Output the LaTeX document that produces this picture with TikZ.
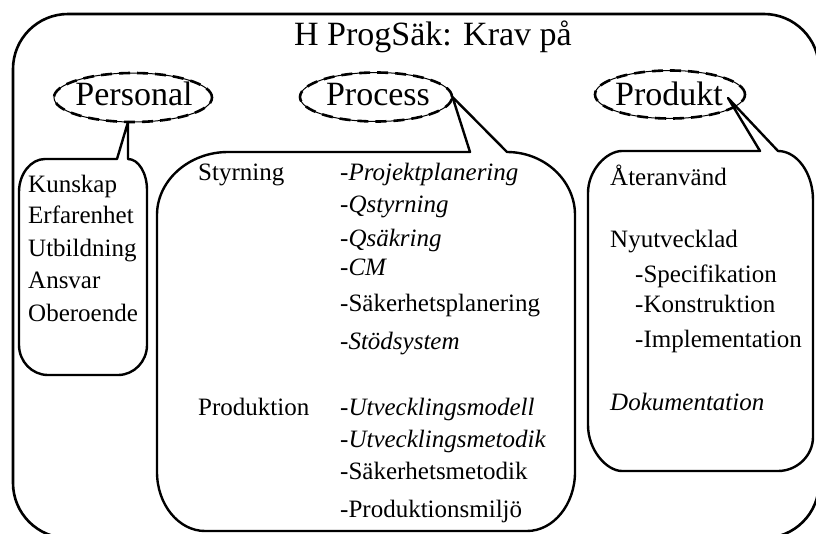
\documentclass[tikz,border=0pt]{standalone}
\usepackage{fontspec}
\setmainfont{Liberation Serif}
\usetikzlibrary{shapes.geometric}
\begin{document}
\begin{tikzpicture}[x=1pt,y=-1pt,
  frame/.style={line width=2.6pt},
  cbox/.style={line width=2.4pt, line join=round},
  lbl/.style={ellipse, draw, line width=1pt, inner sep=0pt,
    postaction={draw, line width=2.6pt, dash pattern=on 11pt off 7pt}},
  lbltxt/.style={anchor=base, inner sep=0pt, font=\fontsize{34}{40}\selectfont},
  txt/.style={anchor=base west, inner sep=0pt, font=\fontsize{25}{30}\selectfont},
  ttl/.style={anchor=base, inner sep=0pt, font=\fontsize{34}{40}\selectfont}]
\useasboundingbox (0,0) rectangle (816,533);
\clip (0,0) rectangle (816,533);
% outer frame
\draw[frame, rounded corners=55pt] (13,14) rectangle (819,538);
\node[ttl] (title) at (433,45) {H ProgSäk: Krav på};
% label ellipses
\node[lbl, minimum width=158pt, minimum height=49pt] (pers) at (133,97.5) {};
\node[lbl, minimum width=152pt, minimum height=49pt] (proc) at (376,97) {};
\node[lbl, minimum width=150pt, minimum height=48pt] (prod) at (670,94.5) {};
\node[lbltxt] (perst) at (134,105) {Personal};
\node[lbltxt] (proct) at (378,105) {Process};
\node[lbltxt] (prodt) at (669,105) {Produkt};
\coordinate (ptip) at (128,122);
\coordinate (dtip) at (728,98);
% Personal callout
\draw[cbox] (117,159) -- (ptip) -- (128,159)
  .. controls (138.5,159) and (147,173) .. (147,190) -- (147,345)
  .. controls (147,361.5) and (134,375) .. (118,375) -- (48,375)
  .. controls (32,375) and (19,361.5) .. (19,345) -- (19,192)
  .. controls (19,174) and (30.7,159) .. (45,159) -- cycle;
% Process callout
\draw[cbox] (470,152) -- (proc.east) -- (507,152)
  .. controls (544.4,152) and (575,180.4) .. (575,215) -- (575,472)
  .. controls (575,504.5) and (553.4,531) .. (527,531) -- (205,531)
  .. controls (178.6,531) and (157,504.5) .. (157,472) -- (157,215)
  .. controls (157,180.4) and (189,152) .. (228,152) -- cycle;
% Produkt callout
\draw[cbox] (760,151) -- (dtip) -- (778,151)
  .. controls (797,151) and (813,173) .. (813,200) -- (813,437)
  .. controls (813,455.7) and (797,471) .. (778,471) -- (622,471)
  .. controls (606.7,471) and (588,450.3) .. (588,425) -- (588,193)
  .. controls (588,170) and (606.7,151) .. (622,151) -- cycle;
% Personal texts
\node[txt] (p1) at (28,192) {Kunskap};
\node[txt] (p2) at (28,223) {Erfarenhet};
\node[txt] (p3) at (28,256) {Utbildning};
\node[txt] (p4) at (28,288) {Ansvar};
\node[txt] (p5) at (28,321) {Oberoende};
% Process texts
\node[txt] (s0) at (198,180) {Styrning};
\node[txt] (s1) at (340,180) {-\textit{Projektplanering}};
\node[txt] (s2) at (340,212) {-\textit{Qstyrning}};
\node[txt] (s3) at (340,246) {-\textit{Qsäkring}};
\node[txt] (s4) at (340,275) {-\textit{CM}};
\node[txt] (s5) at (340,311) {-Säkerhetsplanering};
\node[txt] (s6) at (340,349) {-\textit{Stödsystem}};
\node[txt] (u0) at (198,415) {Produktion};
\node[txt] (u1) at (340,415) {-\textit{Utvecklingsmodell}};
\node[txt] (u2) at (340,447) {-\textit{Utvecklingsmetodik}};
\node[txt] (u3) at (340,479) {-Säkerhetsmetodik};
\node[txt] (u4) at (340,517) {-Produktionsmiljö};
% Produkt texts
\node[txt] (d1) at (610,185) {Återanvänd};
\node[txt] (d2) at (610,247) {Nyutvecklad};
\node[txt] (d3) at (635,282) {-Specifikation};
\node[txt] (d4) at (635,312) {-Konstruktion};
\node[txt] (d5) at (635,347) {-Implementation};
\node[txt] (d6) at (610,410) {\textit{Dokumentation}};
\end{tikzpicture}
\end{document}
